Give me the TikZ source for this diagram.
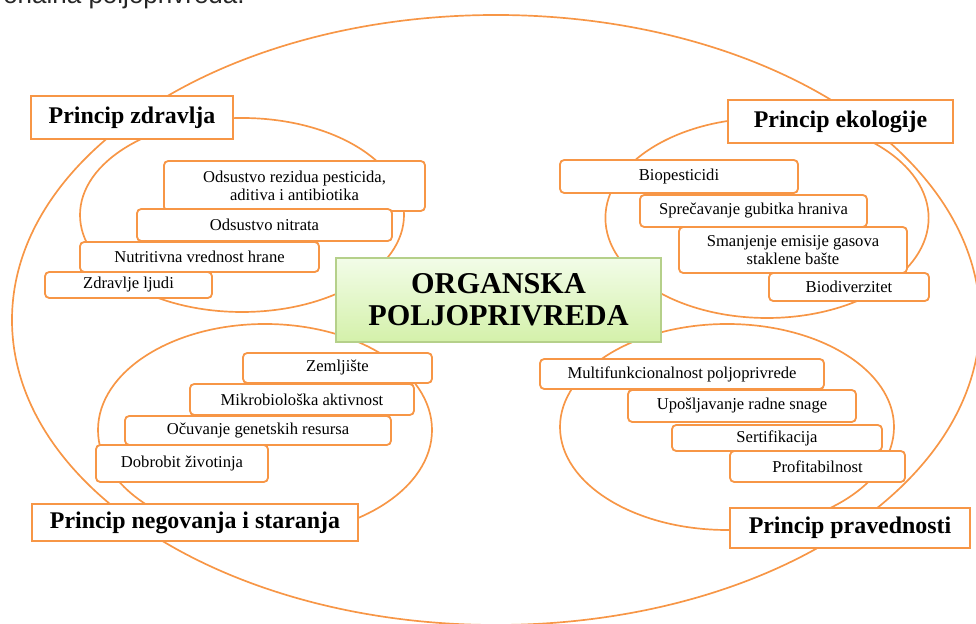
\documentclass[tikz,border=0pt]{standalone}
\usepackage{fontspec}
\setmainfont{Liberation Serif}
\newfontfamily\headfont{Liberation Sans}
\usepackage{tikz}
\usetikzlibrary{positioning, shadows}
\definecolor{ringorange}{HTML}{F79646}
\definecolor{maintop}{HTML}{F2FCE8}
\definecolor{mainbottom}{HTML}{D4F1AA}
\definecolor{mainborder}{HTML}{B5D08A}
\tikzset{
    ringline/.style = {draw=ringorange, line width=1.2pt},
    titlenode/.style = {draw=ringorange, fill=white, rectangle, line width=1.4pt, inner sep=0em,
      node distance=0em, font=\fontsize{17}{19}\selectfont\bfseries},
    itemnode/.style = {draw=ringorange, fill=white, rectangle, rounded corners=0.3em, line width=1.3pt,
      inner sep=0em, node distance=0em, font=\fontsize{11.8}{13.2}\selectfont},
    mainnode/.style = {draw=mainborder, rectangle, top color=maintop, bottom color=mainbottom,
      line width=0.8pt, inner sep=0em, drop shadow={opacity=0.25, shadow xshift=0.8pt, shadow yshift=-0.8pt},
      font=\fontsize{21.5}{22.5}\selectfont\bfseries},
    toptextnode/.style = {draw=none, fill=none, inner sep=0em, text=black!85,
      font=\headfont\fontsize{18.5}{20}\selectfont},
    every text node part/.style={align=center}
}
\begin{document}
\begin{tikzpicture}
    \useasboundingbox (0,0) rectangle (24.4,15.6);
    \node [toptextnode, name=topline, anchor=base east] at (6.125,15.5) {onalna poljoprivreda.};

    \draw [ringline] (12.4,7.6) ellipse [x radius=12.1cm, y radius=7.625cm];
    \draw [ringline] (6.05,10.225) ellipse [x radius=4.05cm, y radius=2.425cm];
    \draw [ringline] (19.175,10.15) ellipse [x radius=4.04cm, y radius=2.5cm];
    \draw [ringline] (6.625,4.85) ellipse [x radius=4.175cm, y radius=2.65cm];
    \draw [ringline] (18.175,4.925) ellipse [x radius=4.175cm, y radius=2.575cm];

    \node [mainnode, name=org, minimum width=8.125cm, minimum height=2.1cm] at (12.4625,8.1) {ORGANSKA\\POLJOPRIVREDA};

    \node [titlenode, name=zdr, minimum width=5.05cm, minimum height=1.075cm] at (3.3,12.6625) {Princip zdravlja};
    \node [titlenode, name=eko, minimum width=5.625cm, minimum height=1.075cm] at (21.0125,12.5625) {Princip ekologije};
    \node [titlenode, name=neg, minimum width=8.15cm, minimum height=0.925cm] at (4.875,2.5375) {Princip negovanja i staranja};
    \node [titlenode, name=pra, minimum width=6cm, minimum height=1cm] at (21.25,2.4) {Princip pravednosti};

    \node [itemnode, name=zdr1, right of = zdr, xshift=4.0625cm, yshift=-1.7125cm, minimum width=6.525cm, minimum height=1.25cm] {Odsustvo rezidua pesticida,\\aditiva  i antibiotika};
    \node [itemnode, name=zdr2, right of = zdr, xshift=3.3125cm, yshift=-2.6875cm, minimum width=6.375cm, minimum height=0.8cm] {Odsustvo nitrata};
    \node [itemnode, name=zdr3, right of = zdr, xshift=1.6875cm, yshift=-3.4875cm, minimum width=5.975cm, minimum height=0.75cm] {Nutritivna vrednost hrane};
    \node [itemnode, name=zdr4, right of = zdr, xshift=-0.0875cm, yshift=-4.1875cm, minimum width=4.175cm, minimum height=0.65cm] {Zdravlje ljudi};

    \node [itemnode, name=eko1, right of = eko, xshift=-4.0375cm, yshift=-1.375cm, minimum width=5.95cm, minimum height=0.825cm] {Biopesticidi};
    \node [itemnode, name=eko2, right of = eko, xshift=-2.175cm, yshift=-2.2375cm, minimum width=5.675cm, minimum height=0.8cm] {Sprečavanje gubitka hraniva};
    \node [itemnode, name=eko3, right of = eko, xshift=-1.1875cm, yshift=-3.2125cm, minimum width=5.7cm, minimum height=1.15cm] {Smanjenje emisije gasova\\staklene bašte};
    \node [itemnode, name=eko4, right of = eko, xshift=0.2125cm, yshift=-4.1375cm, minimum width=4cm, minimum height=0.7cm] {Biodiverzitet};

    \node [itemnode, name=neg1, right of = neg, xshift=3.5625cm, yshift=3.8625cm, minimum width=4.725cm, minimum height=0.75cm] {Zemljište};
    \node [itemnode, name=neg2, right of = neg, xshift=2.675cm, yshift=3.075cm, minimum width=5.6cm, minimum height=0.775cm] {Mikrobiološka aktivnost};
    \node [itemnode, name=neg3, right of = neg, xshift=1.575cm, yshift=2.3cm, minimum width=6.65cm, minimum height=0.725cm] {Očuvanje genetskih resursa};
    \node [itemnode, name=neg4, right of = neg, xshift=-0.325cm, yshift=1.475cm, minimum width=4.3cm, minimum height=0.925cm] {Dobrobit životinja};

    \node [itemnode, name=pra1, right of = pra, xshift=-4.2cm, yshift=3.85cm, minimum width=7.1cm, minimum height=0.75cm] {Multifunkcionalnost poljoprivrede};
    \node [itemnode, name=pra2, right of = pra, xshift=-2.7cm, yshift=3.05cm, minimum width=5.7cm, minimum height=0.8cm] {Upošljavanje radne snage};
    \node [itemnode, name=pra3, right of = pra, xshift=-1.825cm, yshift=2.25cm, minimum width=5.25cm, minimum height=0.65cm] {Sertifikacija};
    \node [itemnode, name=pra4, right of = pra, xshift=-0.8125cm, yshift=1.5375cm, minimum width=4.375cm, minimum height=0.775cm] {Profitabilnost};
\end{tikzpicture}
\end{document}
